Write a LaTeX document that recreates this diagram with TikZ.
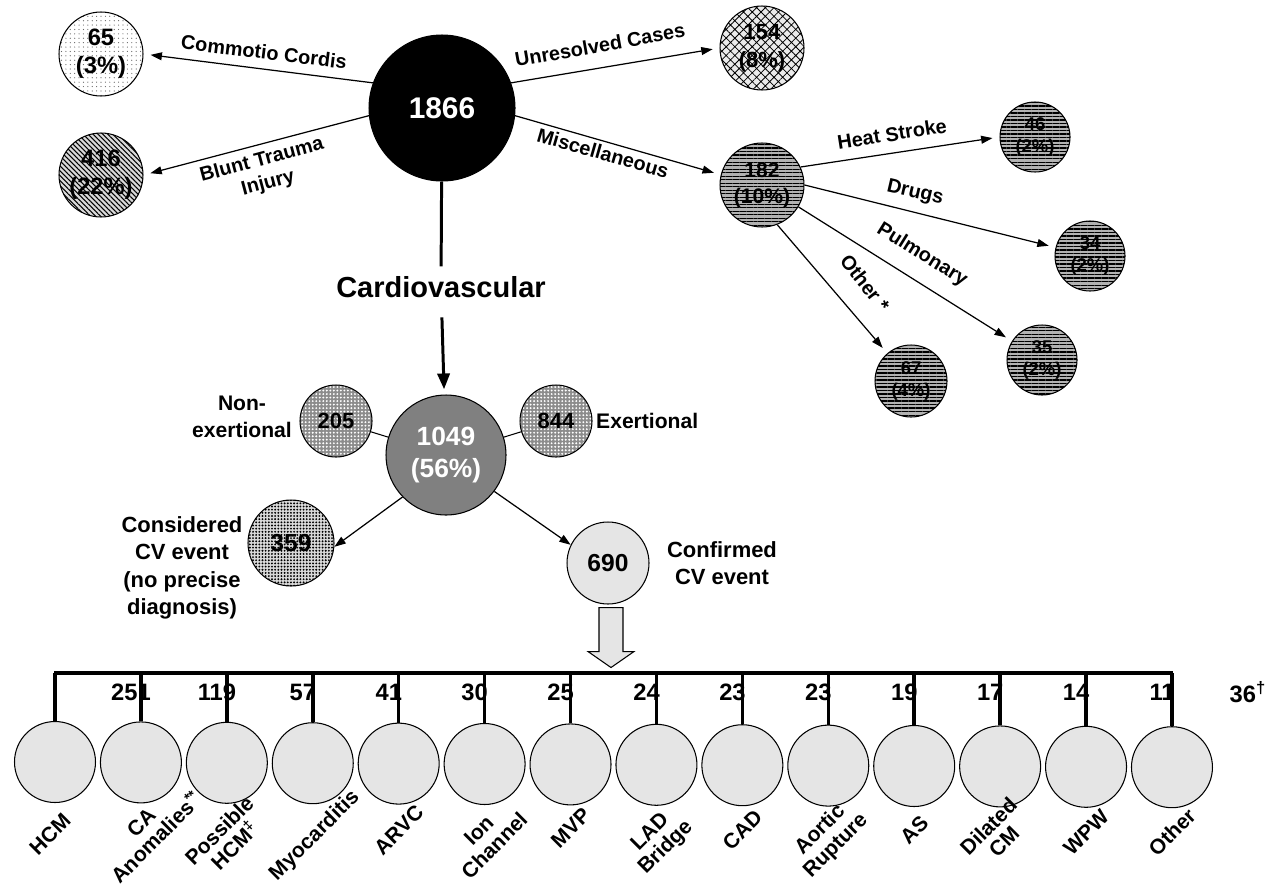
\documentclass[tikz,border=0pt]{standalone}
\usepackage{fontspec}
\setmainfont{Liberation Sans}
\usetikzlibrary{arrows.meta,patterns.meta}

\begin{document}
\begin{tikzpicture}[x=0.02cm, y=-0.02cm,
  >={Triangle[length=6.5pt,width=4.5pt]},
  bub/.style={circle, draw, line width=0.6pt, inner sep=0pt, align=center},
  lbl/.style={font=\fontsize{11.3}{13.5}\selectfont\bfseries, align=center},
  side/.style={font=\fontsize{12}{15}\selectfont\bfseries, align=center},
  cvlbl/.style={font=\fontsize{12.5}{15.6}\selectfont\bfseries, align=center},
  arr/.style={->, line width=0.7pt, shorten >=4pt},
  stripes/.style={bub, preaction={fill=black!30},
    pattern={Lines[angle=0,distance=2pt,line width=0.7pt]},
    font=\fontsize{10.5}{13}\selectfont\bfseries, minimum size=1.4cm}]
  \useasboundingbox (0,0) rectangle (1273,886);

  \node[bub, fill=black, text=white, minimum size=2.92cm,
    font=\fontsize{17}{20}\selectfont\bfseries] (big) at (442,108) {1866};
  \node[bub, minimum size=1.68cm, font=\fontsize{13.5}{16}\selectfont\bfseries,
    pattern={Dots[distance=2.5pt,radius=0.35pt]}, pattern color=black!60]
    (c65) at (101,54) {65\\(3\%)};
  \node[bub, minimum size=1.68cm, font=\fontsize{13.5}{16}\selectfont\bfseries,
    preaction={fill=black!15}, pattern={Lines[angle=-45,distance=2pt,line width=0.6pt]}]
    (c416) at (101,175) {416\\(22\%)};
  \node[bub, minimum size=1.68cm, font=\fontsize{12.5}{16}\selectfont\bfseries,
    preaction={fill=black!8}, pattern={Hatch[angle=45,distance=3.5pt,line width=0.45pt]}]
    (c154) at (762,48) {154\\(8\%)};
  \node[stripes, minimum size=1.68cm, font=\fontsize{12}{15}\selectfont\bfseries]
    (c182) at (762,185) {182\\(10\%)};
  \node[stripes] (c46) at (1035,137) {46\\(2\%)};
  \node[stripes] (c34) at (1090,256) {34\\(2\%)};
  \node[stripes] (c35) at (1042,360) {35\\(2\%)};
  \node[stripes, minimum size=1.44cm] (c67) at (911,381) {67\\(4\%)};

  \draw[arr] (big.160) -- (c65.east);
  \draw[arr] (big.186) -- (c416.east);
  \draw[arr] (big.20) -- (c154.west);
  \draw[arr] (big.-6) -- (c182.166);
  \draw[arr] (c182.25) -- (c46.west);
  \draw[arr] (c182.east) -- (c34);
  \draw[arr] (c182.-31) -- (c35);
  \draw[arr] (c182.-69) -- (c67);

  \node[lbl, rotate=-7] (lcc) at (264,52) {Commotio Cordis};
  \node[lbl, rotate=15] (lbt) at (265,172) {Blunt Trauma\\Injury};
  \node[lbl, rotate=10] (luc) at (600,45) {Unresolved Cases};
  \node[lbl, rotate=-16] (lmi) at (603,153) {Miscellaneous};
  \node[lbl, rotate=9] (lhs) at (892,134) {Heat Stroke};
  \node[lbl, rotate=-13] (ldr) at (915,193) {Drugs};
  \node[lbl, rotate=-32] (lpu) at (922,255) {Pulmonary};
  \node[lbl, rotate=-52] (lot) at (865,283) {Other *};

  \node[font=\fontsize{16.5}{20}\selectfont\bfseries, inner sep=5.5pt]
    (cardio) at (441,287) {Cardiovascular};
  \node[bub, fill=black!50, text=white, minimum size=2.4cm,
    font=\fontsize{15}{18}\selectfont\bfseries] (c1049) at (446,455) {1049\\(56\%)};
  \draw[line width=1.7pt] (big) -- (cardio);
  \draw[-{Triangle[length=9pt,width=7pt]}, line width=1.7pt, shorten <=5.5pt, shorten >=3pt]
    (cardio) -- (c1049);

  \node[bub, minimum size=1.44cm, font=\fontsize{12.5}{15}\selectfont\bfseries,
    preaction={fill=black!45}, pattern={Dots[distance=2pt,radius=0.6pt]}, pattern color=white]
    (c205) at (336,421) {205};
  \node[bub, minimum size=1.44cm, font=\fontsize{12.5}{15}\selectfont\bfseries,
    preaction={fill=black!45}, pattern={Dots[distance=2pt,radius=0.6pt]}, pattern color=white]
    (c844) at (556,421) {844};
  \draw[line width=0.6pt] (c205) -- (c1049);
  \draw[line width=0.6pt] (c844) -- (c1049);
  \node[side] (lnon) at (242,417) {Non-\\exertional};
  \node[side, anchor=west] (lexe) at (590,421) {Exertional};

  \node[bub, minimum size=1.72cm, font=\fontsize{14}{16}\selectfont\bfseries,
    preaction={fill=black!15}, pattern={Dots[distance=1.8pt,radius=0.6pt]}]
    (c359) at (291,543) {359};
  \node[bub, fill=black!10, minimum size=1.64cm, font=\fontsize{14}{16}\selectfont\bfseries]
    (c690) at (608,563) {690};
  \draw[arr, shorten >=0pt] (c1049.224) -- (c359.-5);
  \draw[arr, shorten >=0pt] (c1049.-37) -- (c690.154);
  \node[cvlbl] (lcons) at (182,568) {Considered\\CV event\\(no precise\\diagnosis)};
  \node[cvlbl] (lconf) at (722,563) {Confirmed\\CV event};

  \draw[fill=black!10, line width=0.6pt] (c690.south) ++(-9,3) -- ++(0,44) -- ++(-11,0)
    -- ++(23,16) -- ++(23,-16) -- ++(-11,0) -- ++(0,-44) -- cycle;

  \coordinate (barL) at (54,673);
  \coordinate (barR) at (1173,673);
  \draw[line width=2pt] (barL) -- (barR);
  \foreach \lab/\val/\lx/\ly [count=\i from 0] in {HCM/251/-5/834,
      {CA\\Anomalies\textsuperscript{**}}/119/8/830,
      {Possible\\HCM\textsuperscript{‡}}/57/0/838,
      Myocarditis/41/2/836, ARVC/30/0/830, {Ion\\Channel}/25/2/838, MVP/24/0/828,
      {LAD\\Bridge}/23/2/840, CAD/23/0/830, {Aortic\\Rupture}/19/0/838, AS/17/0/830,
      {Dilated\\CM}/14/-4/834, WPW/11/0/832, Other/{36\textsuperscript{†}}/0/832} {
    \pgfmathsetmacro\cx{55+85.92*\i}
    \node[bub, fill=black!10, minimum size=1.62cm] (d\i) at (\cx,{762+0.4*\i}) {};
    \draw[line width=2pt] (d\i.north |- barL) -- (d\i.north);
    \node[font=\fontsize{13.5}{16}\selectfont\bfseries] (n\i) at (\cx+76,692) {\val};
    \node[font=\fontsize{12}{12.5}\selectfont\bfseries, align=center, rotate=45]
      (t\i) at (\cx+\lx,\ly) {\lab};
  }
\end{tikzpicture}
\end{document}
